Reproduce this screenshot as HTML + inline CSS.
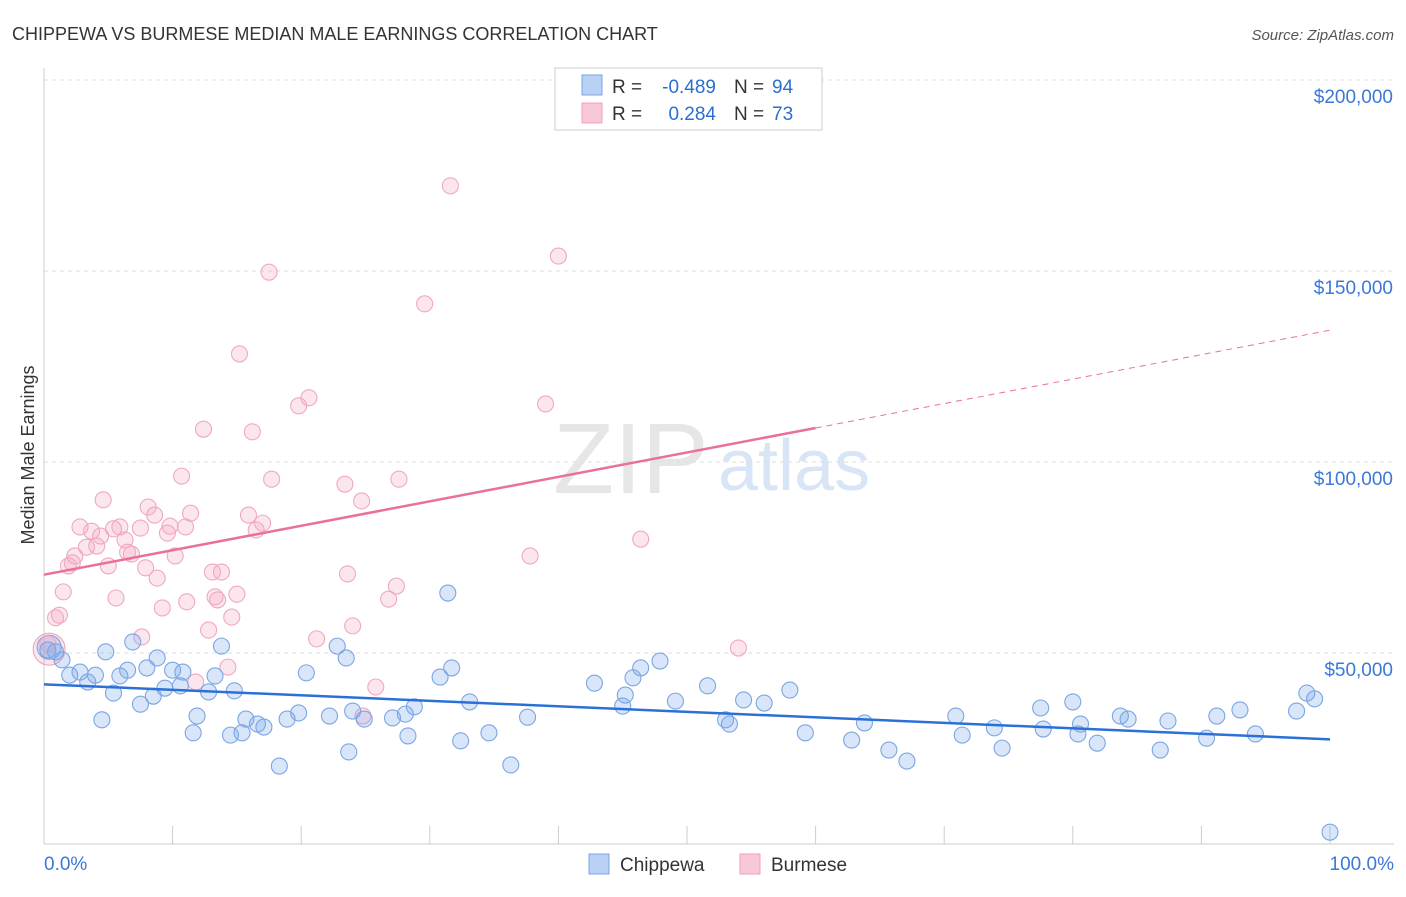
<!DOCTYPE html>
<html><head><meta charset="utf-8"><style>
body{margin:0;background:#fff;font-family:"Liberation Sans",sans-serif}
svg text{font-family:"Liberation Sans",sans-serif}
</style></head><body>
<svg id="c" width="1406" height="892">
<text x="12" y="40" font-size="18" fill="#333">CHIPPEWA VS BURMESE MEDIAN MALE EARNINGS CORRELATION CHART</text>
<text x="1394" y="40" font-size="15" fill="#555" text-anchor="end" font-style="italic">Source: ZipAtlas.com</text>
<text x="553" y="493" font-size="100" fill="#e6e6e6" font-family="Liberation Serif">ZIP</text>
<text x="718" y="490" font-size="72" fill="#d8e5f6">atlas</text>
<text x="34" y="455" font-size="18" fill="#333" text-anchor="middle" transform="rotate(-90 34 455)">Median Male Earnings</text>
<g id="grid"></g><g id="marks"></g>
<g>
<rect x="555" y="68" width="267" height="62" fill="#fff" stroke="#ccc"/>
<rect x="582" y="75" width="20" height="20" fill="#b8d0f4" stroke="#7aa4e0"/>
<rect x="582" y="103" width="20" height="20" fill="#f8c8d6" stroke="#eea0b8"/>
<text x="612" y="93" font-size="19" fill="#333">R =</text>
<text x="716" y="93" font-size="19" fill="#2a6fd0" text-anchor="end">-0.489</text>
<text x="734" y="93" font-size="19" fill="#333">N =</text>
<text x="772" y="93" font-size="19" fill="#2a6fd0">94</text>
<text x="612" y="120" font-size="19" fill="#333">R =</text>
<text x="716" y="120" font-size="19" fill="#2a6fd0" text-anchor="end">0.284</text>
<text x="734" y="120" font-size="19" fill="#333">N =</text>
<text x="772" y="120" font-size="19" fill="#2a6fd0">73</text>
</g>
<g>
<rect x="589" y="854" width="20" height="20" fill="#b8d0f4" stroke="#7aa4e0"/>
<text x="620" y="871" font-size="19" fill="#333">Chippewa</text>
<rect x="740" y="854" width="20" height="20" fill="#f8c8d6" stroke="#eea0b8"/>
<text x="771" y="871" font-size="19" fill="#333">Burmese</text>
</g>
</svg>
<script>
const yTicks=[50000,100000,150000,200000];
const yTickLabels=["$50,000","$100,000","$150,000","$200,000"];
const xTickLabels=["0.0%","100.0%"];
const blueX=[.3,.9,1.4,2.0,2.8,3.4,4.0,4.5,4.8,5.4,5.9,6.5,6.9,7.5,8.0,8.5,8.8,9.4,10.0,10.6,10.8,11.6,11.9,12.8,13.3,13.8,14.5,14.8,15.4,15.7,16.6,17.1,18.3,18.9,19.8,20.4,22.2,22.8,23.5,23.7,24.0,24.9,27.1,28.1,28.3,28.8,30.8,31.4,31.7,32.4,33.1,34.6,36.3,37.6,42.8,45.0,45.2,45.8,46.4,47.9,49.1,51.6,53.0,53.3,54.4,56.0,58.0,59.2,62.8,63.8,65.7,67.1,70.9,71.4,73.9,74.5,77.5,77.7,80.0,80.4,80.6,81.9,83.7,84.3,87.4,86.8,90.4,91.2,93.0,94.2,97.4,98.2,98.8,100];
const blueY=[50.8,50.3,48.2,44.2,45.0,42.4,44.2,32.5,50.3,39.5,44.0,45.5,52.9,36.6,46.1,38.7,48.7,40.8,45.5,41.4,45.0,29.1,33.5,39.8,44.0,51.8,28.5,40.1,29.1,32.7,31.4,30.6,20.4,32.7,34.3,44.8,33.5,51.8,48.7,24.1,34.8,32.7,33.0,34.0,28.3,35.9,43.7,65.7,46.1,27.0,37.2,29.1,20.7,33.2,42.1,36.1,39.0,43.5,46.1,47.9,37.4,41.4,32.5,31.4,37.7,36.9,40.3,29.1,27.2,31.7,24.6,21.7,33.5,28.5,30.4,25.1,35.6,30.1,37.2,28.8,31.4,26.4,33.5,32.7,32.2,24.6,27.7,33.5,35.1,28.8,34.8,39.5,38.0,3.1];
const pinkX=[.3,.9,1.2,1.5,1.9,2.2,2.4,2.8,3.3,3.7,4.1,4.4,4.6,5.0,5.4,5.6,5.9,6.3,6.5,6.8,7.5,7.6,7.9,8.1,8.6,8.8,9.2,9.6,9.8,10.2,10.7,11.0,11.1,11.4,11.8,12.4,12.8,13.1,13.3,13.5,13.8,14.3,14.6,15.0,15.2,16.2,15.9,16.5,17.0,17.5,17.7,19.8,20.6,21.2,23.4,23.6,24.0,24.7,24.8,25.8,26.8,27.4,27.6,29.6,31.6,37.8,39.0,40.0,46.4,54.0];
const pinkY=[52.4,59.2,59.9,66.0,72.8,73.6,75.4,83.0,77.7,81.9,78.0,80.6,90.1,72.8,82.5,64.4,83.0,79.6,76.4,75.9,82.7,54.2,72.3,88.2,86.1,69.6,61.8,81.4,83.2,75.4,96.3,83.0,63.4,86.6,42.4,108.6,56.0,71.2,64.7,63.9,71.2,46.3,59.4,65.4,128.3,107.9,86.1,82.2,84.0,149.7,95.5,114.7,116.8,53.7,94.2,70.7,57.1,89.8,33.5,41.1,64.1,67.5,95.5,141.4,172.3,75.4,115.2,153.9,79.8,51.3];
const blueTrend=[41.8,27.4];
const pinkTrend=[70.5,134.5];
const NS="http://www.w3.org/2000/svg";
const X=p=>44+p*12.86, Y=v=>844-v*0.00382;
function mk(t,a,parent){const e=document.createElementNS(NS,t);for(const k in a)e.setAttribute(k,a[k]);document.getElementById(parent).appendChild(e);return e;}
yTicks.forEach((t,i)=>{
 const l=mk('line',{x1:44,x2:1394,y1:Y(t),y2:Y(t),stroke:'#ddd','stroke-dasharray':'4 4'},'grid');
 
 
 const tx=mk('text',{x:1393,y:Y(t)+23,'font-size':19,fill:'#3b78d8','text-anchor':'end'},'grid');tx.textContent=yTickLabels[i];
 
 
});
mk('line',{x1:44,x2:44,y1:68,y2:844,stroke:'#ccc'},'grid');
mk('line',{x1:44,x2:1394,y1:844,y2:844,stroke:'#ccc'},'grid');
for(let i=0;i<=10;i++){const t=mk('line',{x1:X(i*10),x2:X(i*10),y1:826,y2:844,stroke:'#ccc'},'grid');}
[[0,'start',44],[1,'end',1394]].forEach(([i,a,x])=>{const t=mk('text',{x:x,y:870,'font-size':19,fill:'#3b78d8','text-anchor':a},'grid');t.textContent=xTickLabels[i];
 
 });
const b1=mk('circle',{cx:X(0.4),cy:Y(51000),r:16,fill:'rgba(240,150,180,0.25)',stroke:'#eea0b8'},'marks');

const b2=mk('circle',{cx:X(0.4),cy:Y(51500),r:12,fill:'rgba(110,160,230,0.25)',stroke:'#7aa4e0'},'marks');

pinkX.forEach((x,i)=>{const c=mk('circle',{cx:X(x),cy:Y(pinkY[i]*1000),r:8,fill:'rgba(245,165,195,0.28)',stroke:'#f0a8c0','stroke-width':1.1},'marks');
 
 });
blueX.forEach((x,i)=>{const c=mk('circle',{cx:X(x),cy:Y(blueY[i]*1000),r:8,fill:'rgba(120,165,235,0.28)',stroke:'#7aa6e4','stroke-width':1.1},'marks');
 
 });
const pAt=p=>pinkTrend[0]+(pinkTrend[1]-pinkTrend[0])*p/100;
let l=mk('line',{x1:X(0),y1:Y(pAt(0)*1000),x2:X(60),y2:Y(pAt(60)*1000),stroke:'#e8709a','stroke-width':2.5},'marks');

l=mk('line',{x1:X(60),y1:Y(pAt(60)*1000),x2:X(100),y2:Y(pAt(100)*1000),stroke:'#e8709a','stroke-width':1,'stroke-dasharray':'6 5'},'marks');

l=mk('line',{x1:X(0),y1:Y(blueTrend[0]*1000),x2:X(100),y2:Y(blueTrend[1]*1000),stroke:'#2a70d6','stroke-width':2.5},'marks');

</script>
</body></html>
